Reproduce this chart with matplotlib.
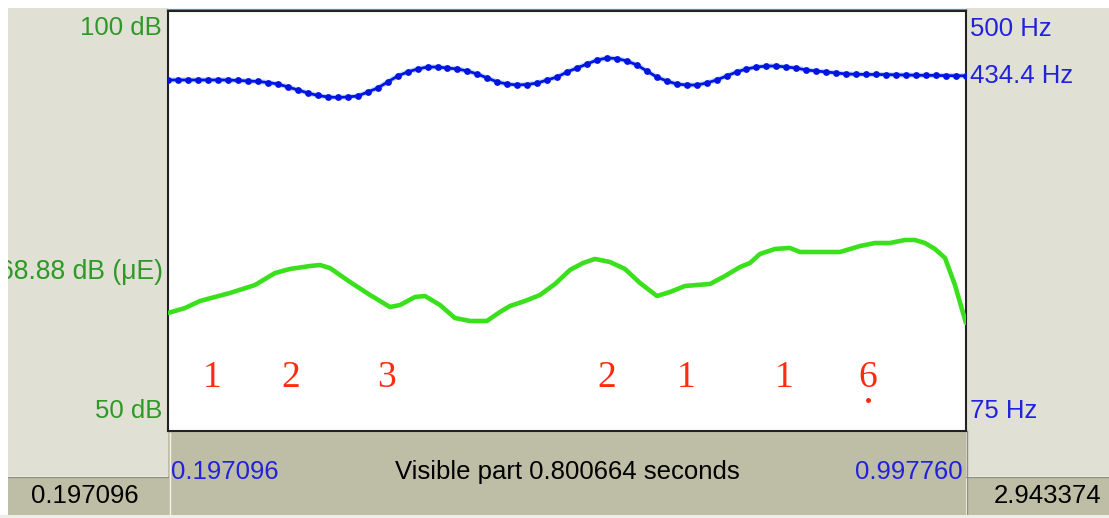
import matplotlib
matplotlib.use("Agg")
import matplotlib.pyplot as plt
from matplotlib.patches import Rectangle
from matplotlib.transforms import blended_transform_factory

# ---------------- data ----------------
t_start, t_end = 0.197096, 0.997760
total_end = 2.943374

pitch_floor, pitch_ceiling = 75, 500
db_min, db_max = 50, 100
pitch_cursor = 434.4
intensity_mean = 68.88

# pitch track, one frame every 10 ms
pitch_time = [round(0.1975 + 0.01 * k, 4) for k in range(81)]
pitch_hz = [
    430.2, 430.2, 430.2, 430.2, 430.2, 430.2, 430.2, 429.7, 429.2, 428.7,
    427.6, 426.1, 423.1, 420.1, 417.0, 414.5, 413.0, 412.5, 413.0, 414.0,
    418.0, 422.1, 428.2, 434.2, 438.3, 441.3, 443.3, 443.3, 442.3, 441.3,
    439.3, 436.2, 432.2, 428.2, 426.1, 425.1, 425.6, 427.1, 430.2, 433.2,
    438.3, 442.3, 446.4, 450.4, 452.4, 451.9, 449.4, 445.4, 439.3, 433.2,
    429.2, 426.1, 425.1, 425.1, 427.1, 430.2, 434.2, 438.3, 441.3, 443.3,
    444.3, 444.3, 443.3, 442.3, 440.3, 439.3, 438.3, 437.3, 436.3, 436.0,
    435.8, 435.8, 435.6, 435.4, 435.2, 435.0, 434.9, 434.8, 434.6, 434.5,
    434.4,
]

# intensity contour
intensity_time = [
    0.1971, 0.2142, 0.2292, 0.2593, 0.2844, 0.3045, 0.3195, 0.3396, 0.3496,
    0.3596, 0.3797, 0.3998, 0.4198, 0.4299, 0.4449, 0.4549, 0.4700, 0.4850,
    0.5001, 0.5171, 0.5302, 0.5402, 0.5553, 0.5703, 0.5854, 0.6004, 0.6135,
    0.6255, 0.6405, 0.6556, 0.6707, 0.6877, 0.7008, 0.7158, 0.7278, 0.7409,
    0.7559, 0.7710, 0.7810, 0.7910, 0.8061, 0.8211, 0.8312, 0.8462, 0.8713,
    0.8914, 0.9064, 0.9215, 0.9365, 0.9466, 0.9566, 0.9666, 0.9767, 0.9867,
    0.9977,
]
intensity_db = [
    64.05, 64.64, 65.48, 66.43, 67.38, 68.81, 69.29, 69.64, 69.76,
    69.40, 67.74, 66.19, 64.76, 65.00, 65.95, 66.07, 65.00, 63.45,
    63.10, 63.10, 64.17, 64.88, 65.48, 66.19, 67.50, 69.17, 70.00,
    70.48, 70.12, 69.29, 67.62, 66.07, 66.55, 67.26, 67.38, 67.50,
    68.45, 69.52, 70.00, 71.07, 71.67, 71.79, 71.31, 71.31, 71.31,
    72.02, 72.38, 72.38, 72.74, 72.74, 72.38, 71.67, 70.60, 67.38,
    62.86,
]

# numbered-notation syllable marks
note_labels = ["1", "2", "3", "2", "1", "1", "6"]
note_time = [0.2412, 0.3205, 0.4168, 0.6375, 0.7168, 0.8151, 0.8994]
low_octave = [False, False, False, False, False, False, True]

# ---------------- layout ----------------
W, H = 1109, 518
fig = plt.figure(figsize=(W / 100, H / 100), dpi=100)
fig.patch.set_facecolor("white")

LIGHT = "#e0e0d5"
DARK = "#bebea6"
BLUE_TXT = "#2222dd"
GREEN_TXT = "#2e9926"
SANS = "Liberation Sans"
FS = 18.5

x0, x1 = 168, 966      # plot frame, pixels
y0, y1 = 11, 431

bg = fig.add_axes([0, 0, 1, 1], zorder=0)
bg.set_xlim(0, W)
bg.set_ylim(H, 0)
bg.axis("off")

def rect(x, y, w, h, color, z=1):
    bg.add_patch(Rectangle((x, y), w, h, facecolor=color, edgecolor="none", zorder=z))

rect(8, 8, x0 - 8, 468, LIGHT)                 # left panel
rect(x1, 8, W - x1, 468, LIGHT)                # right panel
rect(8, 477, x0 - 8, 38, DARK)                 # bottom-left box
rect(x1 + 1, 477, W - x1 - 1, 38, DARK)        # bottom-right box
rect(x0, y1, x1 - x0, 515 - y1, DARK)          # bottom bar
bg.plot([8, x0], [476.5, 476.5], color="#8f8f80", lw=1, zorder=2)
bg.plot([x1, W], [476.5, 476.5], color="#8f8f80", lw=1, zorder=2)
bg.plot([x1 + 0.5, x1 + 0.5], [y1, 515], color="#8f8f80", lw=1, zorder=2)
bg.plot([x0 + 1.5, x0 + 1.5], [y1 + 2, 515], color="#f2f2ea", lw=1, zorder=2)
bg.plot([x0, x1], [9.5, 9.5], color="#2aa6e0", lw=1.6, zorder=3)

# side and bottom texts
bg.text(162, 28, "100 dB", color=GREEN_TXT, fontsize=FS, family=SANS, ha="right", va="center", zorder=4)
bg.text(162, 411, "50 dB", color=GREEN_TXT, fontsize=FS, family=SANS, ha="right", va="center", zorder=4)
bg.text(970, 29, "500 Hz", color=BLUE_TXT, fontsize=FS, family=SANS, ha="left", va="center", zorder=4)
bg.text(970, 411, "75 Hz", color=BLUE_TXT, fontsize=FS, family=SANS, ha="left", va="center", zorder=4)
bg.text(171, 472, f"{t_start:.6f}", color=BLUE_TXT, fontsize=FS, family=SANS, ha="left", va="center", zorder=4)
bg.text(963, 472, f"{t_end:.6f}", color=BLUE_TXT, fontsize=FS, family=SANS, ha="right", va="center", zorder=4)
bg.text(567, 472, f"Visible part {t_end - t_start:.6f} seconds", color="black", fontsize=FS,
        family=SANS, ha="center", va="center", zorder=4)
bg.text(85, 496, f"{t_start:.6f}", color="black", fontsize=FS, family=SANS, ha="center", va="center", zorder=4)
bg.text(1048, 496, f"{total_end:.6f}", color="black", fontsize=FS, family=SANS, ha="center", va="center", zorder=4)

# ---------------- main plot ----------------
ax = fig.add_axes([x0 / W, 1 - y1 / H, (x1 - x0) / W, (y1 - y0) / H], zorder=2)
ax.set_facecolor("white")
ax.set_xlim(t_start, t_end)
ax.set_ylim(pitch_floor, pitch_ceiling)
ax.set_xticks([])
ax.set_yticks([])
for s in ax.spines.values():
    s.set_color("#222222")
    s.set_linewidth(1.5)

ax2 = ax.twinx()
ax2.set_ylim(db_min, db_max)
ax2.set_yticks([])
ax2.patch.set_visible(False)
for s in ax2.spines.values():
    s.set_visible(False)

ax2.plot(intensity_time, intensity_db, color="#3ae01c", lw=3.3, solid_joinstyle="round",
         solid_capstyle="round", zorder=3)

ax.plot(pitch_time, pitch_hz, color="#8cc4ff", lw=3.8, alpha=0.55, zorder=3)
ax.plot(pitch_time, pitch_hz, "-o", color="#0414e0", lw=2.0, ms=4.9, mew=0, zorder=4)

# value labels at their levels
tr_hz = blended_transform_factory(ax.transAxes, ax.transData)
ax.text(1.005, pitch_cursor, f"{pitch_cursor} Hz", transform=tr_hz, color=BLUE_TXT, fontsize=FS,
        family=SANS, ha="left", va="center", clip_on=False)
tr_db = blended_transform_factory(ax.transAxes, ax2.transData)
ax2.text(-0.006, intensity_mean, f"{intensity_mean} dB (μE)", transform=tr_db, color=GREEN_TXT,
         fontsize=FS + 0.6, family=SANS, ha="right", va="center", clip_on=False)

# numbered notation
tr_note = blended_transform_factory(ax.transData, ax.transAxes)
for lab, t, low in zip(note_labels, note_time, low_octave):
    ax.text(t, 0.126, lab, transform=tr_note, color="#ff2a10", fontsize=27,
            family="Liberation Serif", ha="center", va="center")
    if low:
        ax.plot([t], [0.074], "o", transform=tr_note, color="#ff2a10", ms=3.6, mew=0)

# white margin strips on top of everything
top = fig.add_axes([0, 0, 1, 1], zorder=10)
top.set_xlim(0, W)
top.set_ylim(H, 0)
top.axis("off")
top.patch.set_visible(False)
top.add_patch(Rectangle((0, 0), 8, H, facecolor="white", edgecolor="none"))
top.add_patch(Rectangle((0, 0), W, 8, facecolor="white", edgecolor="none"))
top.add_patch(Rectangle((0, 515), W, 3, facecolor="#ededea", edgecolor="none"))

fig.savefig("out.png", dpi=100)
